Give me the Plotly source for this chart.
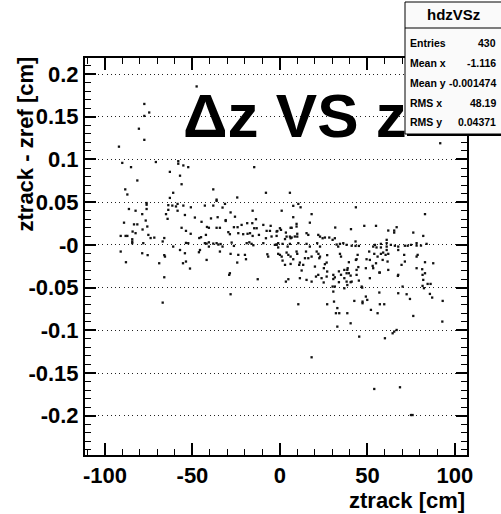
import plotly.graph_objects as go

# ---- data: residual of reconstructed vs reference z position ----
ztrack_cm = [
    -47.6, -77.5, -74.7, -77.5, -80.6, -77.5, -92.0, -90.1, -85.1, -70.9, -58.1, -58.1, -55.2, -52.4,
    -62.9, -57.1, -81.5, -56.2, -88.4, -87.2, -61.0, -62.9, -38.1, -76.2, -76.2, -63.8, -61.5, -58.5,
    -58.5, -59.4, -55.2, -50.9, -42.9, -38.1, -86.3, -82.5, -76.2, -78.7, -65.1, -63.8, -54.3, -48.6,
    -64.2, -89.1, -83.4, -81.5, -76.7, -75.8, -78.5, -56.2, -41.7, -40.6, -44.8, -53.7, -51.0, -91.0,
    -88.2, -87.2, -84.2, -82.5, -75.2, -73.9, -71.8, -66.1, -67.0, -46.1, -45.1, -42.3, -84.4, -84.4,
    -84.4, -78.1, -53.7, -52.4, -42.9, -41.9, -40.6, -38.1, -61.0, -57.1, -54.3, -45.7, -46.3, -40.6,
    -91.0, -78.7, -75.6, -66.1, -65.7, -88.0, -69.0, -55.4, -53.7, -51.4, -66.1, -41.9, -67.0,
    -14.7, -8.0, 5.7, -24.4, -36.2, -36.2, -31.4, -32.8, 10.5, 11.8, 7.6, 1.0, -15.6, -28.2,
    -25.7, 18.1, -35.6, -31.0, -31.0, -13.7, 7.6, -39.4, -18.7, -15.8, -21.9, -9.5, 9.5, 9.5,
    17.1, -26.3, -24.2, -36.2, -34.3, -14.7, -13.3, 0.0, 0.6, 6.1, 6.7, -29.5, -28.6, -23.8,
    -21.0, -18.5, -17.1, -15.6, -12.0, -5.7, -1.9, -1.5, 3.4, 3.8, 5.7, 6.7, 9.9, 9.9,
    15.2, 16.2, 21.9, 22.9, 25.7, 28.2, -36.2, -35.2, -33.9, -32.8, -27.6, -26.3, -19.0, -17.5,
    -16.2, -15.2, -9.5, -2.9, -1.9, -1.0, -1.0, -1.9, 1.5, 4.4, 5.7, 10.5, 15.2, 17.1,
    21.3, 22.9, 33.3, -34.3, -28.2, -23.8, -20.0, -19.4, -24.4, -7.2, -6.7, -1.0, 0.0, 1.0,
    3.8, 4.8, 6.1, 7.6, 9.5, 9.9, 11.4, 1.5, 2.9, 6.1, 14.9, 16.2, 18.1, 21.0,
    22.0, 22.9, 22.5, 20.0, 25.7, 26.7, 25.1, 21.9, 27.0, -28.6, -29.0, -12.7, 4.8, 30.5, 27.0,
    91.6, 82.9, 43.4, 48.2, 54.9, 40.6, 66.7, 65.3, 65.3, 61.9, 76.2, 81.9, 61.0, 32.4,
    34.3, 36.2, 38.1, 41.0, 43.2, 43.2, 45.1, 53.3, 54.3, 55.2, 57.7, 57.7, 61.0, 61.0,
    63.4, 65.7, 67.6, 71.4, 73.0, 74.9, 78.1, 78.1, 80.6, 83.8, 34.3, 34.9, 39.4, 44.4,
    43.8, 49.5, 51.0, 53.9, 55.8, 57.7, 59.0, 60.4, 61.9, 61.0, 61.5, 67.6, 71.0, 69.5,
    78.1, 78.7, 82.9, 87.6, 81.3, 82.9, 57.1, 67.6, 38.7, 36.8, 39.4, 33.7, 34.9, 43.8,
    51.4, 53.3,
    10.5, 27.0, 30.9, 32.8, 32.0, 33.9, 32.8, 38.5, 40.4, 45.3, 47.2, 47.2, 49.1, 49.9,
    42.5, 52.0, 55.8, 57.1, 59.6, 56.8, 60.0, 64.4, 65.3, 66.7, 67.6, 70.1, 72.4, 74.3,
    76.2, 81.5, 82.3, 84.4, 86.1, 85.7, 87.0, 93.0, 92.8, 81.9, 81.5, 67.4, 71.4, 78.1,
    3.4, 11.4, 15.2, 18.1, 20.6, 23.8, 26.7, 30.1, 31.4, 30.5, 36.8, 38.1, 38.5, 38.1,
    38.5, 41.0, 44.8, 43.8, 43.4, 46.7, 49.1, 51.4, 53.0, 54.9, 56.8, 58.7, 61.9, 31.6,
    -5.3, -7.6, 11.0, 13.3, 12.4, 14.3, 30.1, 31.4, 24.4, -8.0, -4.8, -1.9, 2.9, 6.1, 8.5,
    -28.2, 25.0, 30.5, 31.4, 33.7, 36.8, 40.4, 40.4, 45.1, 47.0, 53.9, 18.1, 68.6, 74.9, 75.8,
]

dz_cm = [
    0.1855, 0.165, 0.155, 0.151, 0.136, 0.123, 0.115, 0.096, 0.091, 0.097, 0.098, 0.095, 0.093, 0.091,
    0.0855, 0.081, 0.0754, 0.071, 0.065, 0.059, 0.061, 0.055, 0.065, 0.049, 0.047, 0.0465, 0.046, 0.048,
    0.040, 0.045, 0.046, 0.044, 0.046, 0.046, 0.042, 0.040, 0.042, 0.036, 0.036, 0.041, 0.035, 0.032,
    0.0305, 0.026, 0.024, 0.024, 0.0285, 0.0215, 0.018, 0.020, 0.021, 0.020, 0.027, 0.0164, 0.013, 0.0105,
    0.0105, 0.0105, 0.0156, 0.0137, 0.0117, 0.008, 0.0085, 0.008, 0.004, 0.008, 0.009, 0.0117, 0.002, 0.004,
    0.0066, 0.002, 0.0023, 0.002, 0.002, 0.0015, 0.003, 0.0015, -0.002, -0.006, -0.0098, -0.006, -0.0086, -0.002,
    -0.0078, -0.0098, -0.012, -0.012, -0.0137, -0.0203, -0.0215, -0.0215, -0.0195, -0.0277, -0.0379, -0.0176, -0.0676,
    0.091, 0.061, 0.061, 0.0555, 0.053, 0.0515, 0.048, 0.0437, 0.048, 0.044, 0.0457, 0.040, 0.040, 0.038,
    0.033, 0.036, 0.0324, 0.029, 0.028, 0.030, 0.0324, 0.031, 0.0254, 0.0254, 0.0234, 0.0234, 0.0246, 0.0215,
    0.026, 0.0207, 0.0207, 0.020, 0.020, 0.0195, 0.0195, 0.0195, 0.0176, 0.020, 0.020, 0.0149, 0.0125, 0.0137,
    0.0125, 0.013, 0.0137, 0.0105, 0.0117, 0.0164, 0.0156, 0.0162, 0.0144, 0.0097, 0.0097, 0.0086, 0.013, 0.0097,
    0.0137, 0.0117, 0.0117, 0.0097, 0.0086, 0.0086, 0.002, 0.0004, 0.001, -0.002, 0.0027, -0.0012, 0.002, 0.003,
    0.0012, -0.0004, 0.002, 0.0, 0.0, 0.002, -0.003, 0.0005, 0.0012, -0.002, 0.0012, 0.002, 0.0012, -0.002,
    0.002, -0.002, -0.002, -0.0078, -0.0105, -0.0117, -0.0117, -0.0168, -0.0207, -0.011, -0.0137, -0.0105, -0.0117, -0.0137,
    -0.009, -0.0117, -0.0137, -0.0168, -0.0078, -0.0105, -0.0207, -0.0184, -0.0234, -0.0223, -0.0078, -0.0156, -0.0137, -0.0078,
    -0.0105, -0.0137, -0.0156, -0.0254, -0.0226, -0.0207, -0.0273, -0.0351, -0.0312, -0.0332, -0.0351, -0.0402, -0.0402, -0.0351, -0.012,
    0.119, 0.036, 0.044, 0.0223, 0.0223, 0.0184, 0.0207, 0.0168, 0.0144, 0.0168, 0.0144, 0.0105, 0.0059, 0.0004,
    0.0012, 0.002, 0.0, -0.001, 0.004, -0.0012, -0.0012, -0.002, 0.0, -0.003, 0.0012, -0.003, 0.002, -0.002,
    0.0, -0.001, -0.002, -0.001, -0.001, 0.0, 0.002, -0.0008, -0.0008, 0.0012, -0.0105, -0.0137, -0.0203, -0.0117,
    -0.0168, -0.0168, -0.0078, -0.0105, -0.0137, -0.0105, -0.009, -0.0117, -0.0105, -0.006, -0.0195, -0.006, -0.0117, -0.0234,
    -0.0137, -0.0117, -0.0203, -0.0215, -0.0285, -0.0332, -0.0324, -0.0351, -0.0273, -0.0293, -0.0332, -0.031, -0.035, -0.0351,
    -0.039, -0.0273,
    -0.0695, -0.0695, -0.0664, -0.074, -0.080, -0.080, -0.0957, -0.080, -0.0918, -0.1074, -0.0664, -0.0683, -0.0605, -0.0644,
    -0.0656, -0.0761, -0.080, -0.0695, -0.0695, -0.0558, -0.1093, -0.1035, -0.1015, -0.0996, -0.0566, -0.0488, -0.0578, -0.0633,
    -0.0832, -0.048, -0.0507, -0.0457, -0.0457, -0.0574, -0.0617, -0.0656, -0.0898, -0.041, -0.0351, -0.0363, -0.0195, -0.0273,
    -0.043, -0.039, -0.041, -0.043, -0.0371, -0.039, -0.0371, -0.0488, -0.0488, -0.0547, -0.039, -0.043, -0.047, -0.0332,
    -0.0293, -0.043, -0.026, -0.0293, -0.0176, -0.0488, -0.0273, -0.0176, -0.0246, -0.0215, -0.0324, -0.0176, -0.0293, 0.0203,
    0.0223, 0.0164, -0.0234, -0.0234, -0.030, -0.0156, 0.0059, 0.0078, 0.0078, 0.0078, 0.0098, 0.0105, 0.0068, 0.0078, 0.0098,
    -0.0578, -0.044, -0.040, -0.038, -0.0437, -0.0508, -0.036, -0.0437, -0.0418, -0.050, -0.1687, -0.1316, -0.1667, -0.1992, -0.1992,
]

x_tick_vals = [-100, -50, 0, 50, 100]
x_tick_text = ["-100", "-50", "0", "50", "100"]
y_tick_vals = [-0.2, -0.15, -0.1, -0.05, 0.0, 0.05, 0.1, 0.15, 0.2]
y_tick_text = ["-0.2", "-0.15", "-0.1", "-0.05", "-0", "0.05", "0.1", "0.15", "0.2"]

stats_rows = [
    ("Entries", "430"),
    ("Mean x", "-1.116"),
    ("Mean y", "-0.001474"),
    ("RMS x", "48.19"),
    ("RMS y", "0.04371"),
]

# ---- page geometry (pixels) ----
W, H = 501, 514
L, R, T, B = 85, 467, 58, 455
FONT = "Liberation Sans, Arial, Helvetica, sans-serif"


def fx(px):
    return (px - L) / (R - L)


def fy(py):
    return (B - py) / (B - T)


fig = go.Figure(
    go.Scatter(
        x=ztrack_cm,
        y=dz_cm,
        mode="markers",
        marker=dict(symbol="square", size=2.3, color="#111111", line=dict(width=0)),
        hoverinfo="x+y",
    )
)

axis_common = dict(
    showline=True,
    linewidth=2,
    linecolor="black",
    mirror="ticks",
    ticks="inside",
    tickcolor="black",
    tickwidth=1.5,
    zeroline=False,
    tickmode="array",
    tickfont=dict(family=FONT, size=22, color="black", weight="bold"),
)

fig.update_xaxes(
    **axis_common,
    range=[-111.4, 106.9],
    tickvals=x_tick_vals,
    ticktext=x_tick_text,
    ticklen=12,
    showgrid=False,
    minor=dict(tickmode="linear", tick0=0, dtick=10, ticks="inside", ticklen=6,
               tickwidth=1.3, tickcolor="black", showgrid=False),
)

fig.update_yaxes(
    **axis_common,
    range=[-0.246, 0.2188],
    tickvals=y_tick_vals,
    ticktext=y_tick_text,
    ticklen=11,
    showgrid=True,
    gridcolor="#222222",
    gridwidth=1.2,
    griddash="1px,3.3px",
    minor=dict(tickmode="linear", tick0=0, dtick=0.01, ticks="inside", ticklen=6,
               tickwidth=1.3, tickcolor="black", showgrid=False),
)

annotations = [
    # plot title
    dict(text="Δz VS z", x=fx(295), y=fy(115), xref="paper", yref="paper",
         xanchor="center", yanchor="middle", showarrow=False,
         font=dict(family=FONT, size=62, color="black", weight="bold")),
    # axis titles
    dict(text="ztrack [cm]", x=fx(467), y=fy(500), xref="paper", yref="paper",
         xanchor="right", yanchor="middle", showarrow=False,
         font=dict(family=FONT, size=22, color="black", weight="bold")),
    dict(text="ztrack - zref [cm]", x=fx(25), y=fy(55), xref="paper", yref="paper",
         xanchor="center", yanchor="top", textangle=-90, showarrow=False,
         font=dict(family=FONT, size=22, color="black", weight="bold")),
    # statistics box header
    dict(text="hdzVSz", x=fx(453), y=fy(15), xref="paper", yref="paper",
         xanchor="center", yanchor="middle", showarrow=False,
         font=dict(family=FONT, size=15, color="black", weight="bold")),
]

row_y = [43, 63, 83, 103, 122]
for (label, value), py in zip(stats_rows, row_y):
    annotations.append(dict(text=label, x=fx(408), y=fy(py), xref="paper", yref="paper",
                            xanchor="left", yanchor="middle", showarrow=False,
                            font=dict(family=FONT, size=10.5, color="black", weight="bold")))
    annotations.append(dict(text=value, x=fx(498), y=fy(py), xref="paper", yref="paper",
                            xanchor="right", yanchor="middle", showarrow=False,
                            font=dict(family=FONT, size=10.5, color="black", weight="bold")))

shapes = [
    # statistics box with header separator and shadow line
    dict(type="rect", xref="paper", yref="paper", x0=fx(405), x1=fx(520), y0=fy(134), y1=fy(2),
         line=dict(color="black", width=1), fillcolor="#fafafa", layer="above"),
    dict(type="line", xref="paper", yref="paper", x0=fx(405), x1=fx(520), y0=fy(28), y1=fy(28),
         line=dict(color="black", width=1), layer="above"),
    dict(type="line", xref="paper", yref="paper", x0=fx(407), x1=fx(520), y0=fy(135), y1=fy(135),
         line=dict(color="black", width=2), layer="above"),
]

fig.update_layout(
    width=W,
    height=H,
    margin=dict(l=L, r=W - R, t=T, b=H - B, pad=0),
    paper_bgcolor="white",
    plot_bgcolor="white",
    showlegend=False,
    annotations=annotations,
    shapes=shapes,
)

fig.write_html("out.html")
